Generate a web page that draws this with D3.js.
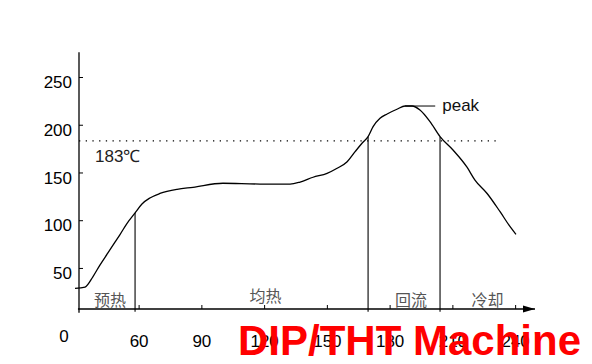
<!DOCTYPE html>
<html>
<head>
<meta charset="utf-8">
<script src="https://cdn.jsdelivr.net/npm/d3@7"></script>
<style>
  html, body { margin: 0; padding: 0; background: #fff; }
  svg { display: block; font-family: "Liberation Sans", Arial, sans-serif; }
</style>
</head>
<body>
<div id="chart"></div>
<script>
// reflow temperature profile (time in s, temperature in degC)
const times = [29.6, 34.4, 38.2, 41.5, 45.4, 48.7, 51.1, 54.4, 58.3, 61.6, 65.4, 70.2, 78.4, 86, 100.3, 118, 132.4,
  137.2, 143.4, 150.1, 154.9, 159.7, 163.5, 166.8, 169.7, 172.1, 175.4, 178.8, 183.5, 187.4, 190.7, 194.5, 199.3,
  204.1, 210.3, 217, 220.8, 226.6, 232.8, 237.6, 240.4];
const temps = [28.5, 30, 41, 53, 66, 77, 85, 96.5, 107.6, 117, 123.3, 128, 132.4, 134.5, 138.7, 137.9, 137.9,
  140, 145, 149.1, 154.4, 161.3, 171.8, 180.6, 187.5, 198, 206.7, 211.3, 216.2, 219.6, 219.6, 215.4, 203.2,
  187.5, 173.5, 155.5, 142, 128, 108.9, 93.2, 85.2];

const xTicks = [60, 90, 120, 150, 180, 210, 240];
const yTicks = [50, 100, 150, 200, 250];
const liquidus = 183;
const phaseNames = ["预热", "均热", "回流", "冷却"];
const phaseBounds = [58.3, 169.7, 204.1]; // end of preheat, soak, reflow

const width = 592, height = 364;

const svg = d3.select("#chart").append("svg")
  .attr("width", width)
  .attr("height", height);

const x = d3.scaleLinear().domain([31.5, 249.5]).range([79, 535]);
const y = d3.scaleLinear().domain([7, 250]).range([309, 77]);

const data = times.map((t, i) => ({ t: t, v: temps[i] }));

function tempAt(t) {
  const i = d3.bisector(d => d.t).left(data, t);
  if (i <= 0) return data[0].v;
  if (i >= data.length) return data[data.length - 1].v;
  const a = data[i - 1], b = data[i];
  return a.v + (b.v - a.v) * (t - a.t) / (b.t - a.t);
}

// dotted 183 line
svg.append("line")
  .attr("x1", x(31.5)).attr("x2", x(232.8))
  .attr("y1", y(liquidus)).attr("y2", y(liquidus))
  .attr("stroke", "#000")
  .attr("stroke-width", 1.2)
  .attr("stroke-dasharray", "1.3,5.4");

svg.append("text")
  .attr("x", x(31.5) + 16)
  .attr("y", y(liquidus) + 21)
  .attr("font-size", 17)
  .attr("fill", "#222")
  .text(liquidus + "℃");

// phase boundaries
svg.selectAll("line.phase")
  .data(phaseBounds)
  .join("line")
  .attr("class", "phase")
  .attr("x1", d => x(d)).attr("x2", d => x(d))
  .attr("y1", y(4)).attr("y2", d => y(tempAt(d)))
  .attr("stroke", "#000")
  .attr("stroke-width", 1.1);

// phase labels
const edges = [x.domain()[0]].concat(phaseBounds, [x.domain()[1]]);
const labelShift = [3, 14, 7, 0];
svg.selectAll("text.phase")
  .data(phaseNames)
  .join("text")
  .attr("class", "phase")
  .attr("x", (d, i) => (x(edges[i]) + x(edges[i + 1])) / 2 + labelShift[i])
  .attr("y", (d, i) => i === 1 ? 302 : 306)
  .attr("text-anchor", "middle")
  .attr("font-family", "'Noto Sans CJK SC', sans-serif")
  .attr("font-size", 16)
  .attr("fill", "#555")
  .text(d => d);

// profile curve
svg.append("path")
  .datum(data)
  .attr("fill", "none")
  .attr("stroke", "#000")
  .attr("stroke-width", 1.3)
  .attr("d", d3.line().x(d => x(d.t)).y(d => y(d.v)).curve(d3.curveMonotoneX));

// peak marker
const peak = data.reduce((a, b) => (b.v > a.v ? b : a));
svg.append("line")
  .attr("x1", x(peak.t)).attr("x2", x(201.8))
  .attr("y1", y(peak.v)).attr("y2", y(peak.v))
  .attr("stroke", "#000");
svg.append("text")
  .attr("x", x(201.8) + 7)
  .attr("y", y(peak.v))
  .attr("dy", "0.32em")
  .attr("font-size", 17)
  .attr("fill", "#111")
  .text("peak");

// axes
const xAxis = svg.append("g")
  .attr("transform", `translate(0,${y(7)})`)
  .call(d3.axisBottom(x).tickValues(xTicks).tickSize(-4).tickSizeOuter(0).tickPadding(26));
xAxis.select(".domain").remove();
xAxis.selectAll("text").attr("font-size", 17).attr("fill", "#000").attr("font-family", null);

const yAxis = svg.append("g")
  .attr("transform", `translate(${x(31.5)},0)`)
  .call(d3.axisLeft(y).tickValues(yTicks).tickSize(-4).tickSizeOuter(0).tickPadding(7));
yAxis.select(".domain").remove();
yAxis.selectAll("text").attr("font-size", 17).attr("fill", "#000").attr("dy", "0.62em").attr("font-family", null);

svg.append("line")
  .attr("x1", x(31)).attr("x2", x(249.5))
  .attr("y1", y(7)).attr("y2", y(7))
  .attr("stroke", "#000").attr("stroke-width", 1.3);
svg.append("line")
  .attr("x1", x(31.5)).attr("x2", x(31.5))
  .attr("y1", y(3)).attr("y2", y(276))
  .attr("stroke", "#000").attr("stroke-width", 1.3);

// arrow head on the time axis
svg.append("path")
  .attr("d", `M${x(249.5)},${y(7)} L${x(249.5) - 12},${y(7) - 3.5} L${x(249.5) - 12},${y(7) + 3.5} Z`)
  .attr("fill", "#000");

// origin label
svg.append("text")
  .attr("x", x(31.5) - 15)
  .attr("y", y(7) + 33)
  .attr("text-anchor", "middle")
  .attr("font-size", 17)
  .text("0");

// watermark
svg.append("text")
  .attr("x", 238)
  .attr("y", 355)
  .attr("font-size", 42)
  .attr("font-weight", "bold")
  .attr("fill", "#ff0000")
  .text("DIP/THT Machine");
</script>
</body>
</html>
